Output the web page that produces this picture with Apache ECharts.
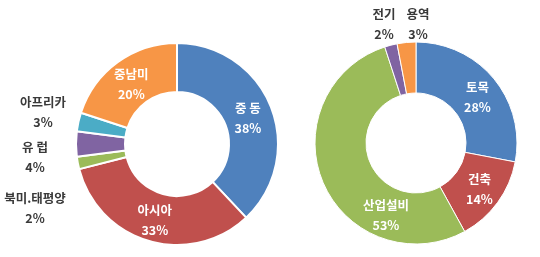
<!DOCTYPE html>
<html><head><meta charset="utf-8">
<script src="https://cdn.jsdelivr.net/npm/echarts@6/dist/echarts.min.js"></script>
<style>html,body{margin:0;padding:0;background:#fff}#c{width:540px;height:257px}</style>
</head><body><div id="c"></div>
<script>
const regionNames = ['중 동', '아시아', '북미.태평양', '유 럽', '아프리카', '중남미'];
const regionValues = [38, 33, 2, 4, 3, 20];
const regionColors = ['#4F81BD', '#C0504D', '#9BBB59', '#8064A2', '#4BACC6', '#F79646'];
const fieldNames = ['토목', '건축', '산업설비', '전기', '용역'];
const fieldValues = [28, 14, 53, 2, 3];
const fieldColors = ['#4F81BD', '#C0504D', '#9BBB59', '#8064A2', '#F79646'];

const FONT = '"Noto Sans CJK KR", "Noto Sans", sans-serif';
const chart = echarts.init(document.getElementById('c'));

const leftOutside = {2: [35, 208], 3: [35, 157], 4: [43, 112]};
const rightOutside = {3: [384, 24], 4: [418, 24]};

function mk(names, vals, colors, insideSet) {
  return names.map((n, i) => {
    const inside = insideSet.includes(i);
    return {
      name: n, value: vals[i],
      itemStyle: {color: colors[i]},
      label: inside ? {position: 'inside', color: '#fff'} : {position: 'outside', color: '#3a3a3a'}
    };
  });
}

const labelBase = {
  show: true, fontFamily: FONT, fontWeight: 'bold', fontSize: 12.5, lineHeight: 20,
  formatter: p => p.name + '\n' + p.value + '%'
};

chart.setOption({
  animation: false,
  backgroundColor: '#fff',
  series: [
    {
      type: 'pie', center: [177, 144], radius: [52, 101], startAngle: 90, clockwise: true,
      avoidLabelOverlap: false,
      itemStyle: {borderColor: '#fff', borderWidth: 2},
      label: labelBase, labelLine: {show: false},
      labelLayout: p => {
        const o = leftOutside[p.dataIndex];
        if (o) return {x: o[0], y: o[1], align: 'center', verticalAlign: 'middle'};
        if (p.dataIndex === 0) return {dx: -3, dy: 4};
        if (p.dataIndex === 5) return {dx: 1, dy: 5};
        return {};
      },
      data: mk(regionNames, regionValues, regionColors, [0, 1, 5])
    },
    {
      type: 'pie', center: [416, 143], radius: [50, 101], startAngle: 90, clockwise: true,
      avoidLabelOverlap: false,
      itemStyle: {borderColor: '#fff', borderWidth: 1},
      label: labelBase, labelLine: {show: false},
      labelLayout: p => {
        const o = rightOutside[p.dataIndex];
        if (o) return {x: o[0], y: o[1], align: 'center', verticalAlign: 'middle'};
        if (p.dataIndex === 2) return {dx: 42, dy: 41};
        if (p.dataIndex === 0) return {dx: 1, dy: 4};
        return {};
      },
      data: mk(fieldNames, fieldValues, fieldColors, [0, 1, 2])
    }
  ]
});
</script></body></html>
